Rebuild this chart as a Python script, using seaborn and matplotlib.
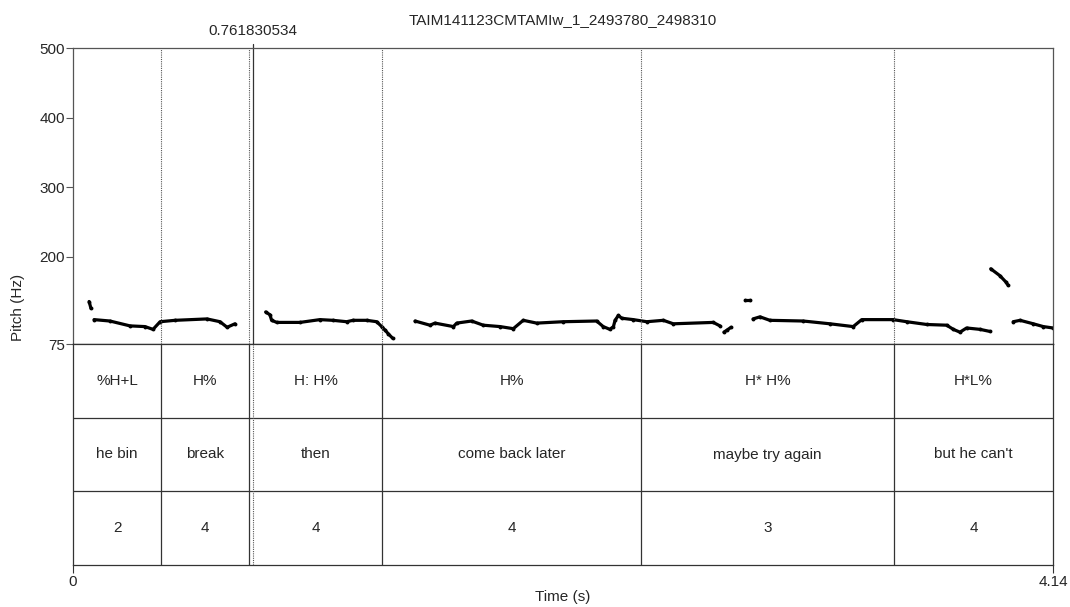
import matplotlib
matplotlib.use("Agg")
import matplotlib.pyplot as plt
import seaborn as sns
import pandas as pd
import numpy as np

sns.set_style("ticks")
plt.rcParams['font.family'] = ['Liberation Sans', 'DejaVu Sans']

title = "TAIM141123CMTAMIw_1_2493780_2498310"
t_min, t_max = 0.0, 4.14
cursor_time = 0.761830534
pitch_min, pitch_max = 75, 500
pitch_ticks = [75, 200, 300, 400, 500]

# pitch track segments (time s, pitch Hz)
seg_a_t = [0.068, 0.076]
seg_a_f = [136, 126]
seg_b_t = [0.089, 0.156, 0.241, 0.304, 0.338, 0.368, 0.431, 0.566, 0.621, 0.651, 0.684]
seg_b_f = [110, 108, 101, 100, 96, 107, 109, 111, 107, 99, 104]
seg_c_t = [0.814, 0.832, 0.839, 0.861, 0.959, 1.043, 1.098, 1.156, 1.183, 1.241, 1.283, 1.304, 1.318, 1.331, 1.351]
seg_c_f = [121, 117, 109, 106, 106, 110, 109, 107, 109, 109, 107, 100, 95, 90, 83]
seg_d_t = [1.445, 1.508, 1.529, 1.607, 1.621, 1.684, 1.733, 1.804, 1.860, 1.902, 1.959, 2.071, 2.212,
           2.240, 2.268, 2.283, 2.290, 2.304, 2.318, 2.367, 2.424, 2.494, 2.536, 2.705, 2.733]
seg_d_f = [108, 102, 105, 100, 105, 108, 102, 100, 97, 109, 105, 107, 108,
           100, 96, 100, 109, 116, 112, 110, 107, 109, 104, 106, 101]
seg_e_t = [2.750, 2.763, 2.780]
seg_e_f = [92, 95, 99]
seg_f_t = [2.839, 2.860]
seg_f_f = [138, 138]
seg_g_t = [2.873, 2.902, 2.944, 3.085, 3.198, 3.296, 3.332, 3.465, 3.522, 3.607, 3.691, 3.719, 3.747, 3.775, 3.832, 3.874]
seg_g_f = [111, 114, 109, 108, 104, 100, 110, 110, 107, 103, 102, 96, 92, 98, 96, 93]
seg_h_t = [3.877, 3.916, 3.941, 3.951]
seg_h_f = [183, 173, 164, 159]
seg_i_t = [3.972, 4.001, 4.057, 4.099, 4.140]
seg_i_f = [107, 109, 104, 100, 98]

segments = {
    "a": (seg_a_t, seg_a_f), "b": (seg_b_t, seg_b_f), "c": (seg_c_t, seg_c_f),
    "d": (seg_d_t, seg_d_f), "e": (seg_e_t, seg_e_f), "f": (seg_f_t, seg_f_f),
    "g": (seg_g_t, seg_g_f), "h": (seg_h_t, seg_h_f), "i": (seg_i_t, seg_i_f),
}

# TextGrid tiers
boundaries = [0.372, 0.745, 1.305, 2.400, 3.468]
tier_tones = ["%H+L", "H%", "H: H%", "H%", "H* H%", "H*L%"]
tier_words = ["he bin", "break", "then", "come back later", "maybe try again", "but he can't"]
tier_breaks = ["2", "4", "4", "4", "3", "4"]

rows = []
for k, (tt, ff) in segments.items():
    for t, f in zip(tt, ff):
        rows.append({"time": t, "pitch": f, "seg": k})
df = pd.DataFrame(rows)

W, H = 1070, 607
fig = plt.figure(figsize=(W / 100, H / 100), dpi=100)
L, R = 73, 1053
P_top, P_bot, T_bot = 48, 344, 565
ax_p = fig.add_axes([L / W, 1 - P_bot / H, (R - L) / W, (P_bot - P_top) / H])
ax_t = fig.add_axes([L / W, 1 - T_bot / H, (R - L) / W, (T_bot - P_bot) / H])

# pitch
sns.lineplot(data=df, x="time", y="pitch", units="seg", estimator=None, color="black",
             lw=2.3, marker="o", markersize=2.8, markeredgewidth=0, ax=ax_p, legend=False)
ax_p.set_xlim(t_min, t_max)
ax_p.set_ylim(pitch_min, pitch_max)
ax_p.set_yticks(pitch_ticks)
ax_p.set_yticklabels([str(v) for v in pitch_ticks])
ax_p.set_xticks([])
ax_p.set_xlabel("")
ax_p.set_ylabel("")
ax_p.tick_params(axis="y", length=5, width=0.8, labelsize=11, pad=1, color="#555555")
for s in ax_p.spines.values():
    s.set_linewidth(0.9)
    s.set_color("#555555")
ax_p.spines["bottom"].set_color("black")
for b in boundaries:
    ax_p.axvline(b, color="#555555", lw=0.8, ls=(0, (1, 1)))
ax_p.plot([cursor_time, cursor_time], [0, 1.015], color="#333333", lw=0.9,
          transform=ax_p.get_xaxis_transform(), clip_on=False)
ax_p.text(cursor_time, 1.035, f"{cursor_time:.9f}", transform=ax_p.get_xaxis_transform(),
          ha="center", va="bottom", fontsize=11)

# tiers
ax_t.set_xlim(t_min, t_max)
ax_t.set_ylim(0, 3)
ax_t.set_yticks([])
edges = [t_min] + boundaries + [t_max]
for y in [1, 2]:
    ax_t.axhline(y, color="#333333", lw=0.9)
for b in boundaries:
    ax_t.axvline(b, color="#333333", lw=0.9)
ax_t.axvline(cursor_time, color="#555555", lw=0.8, ls=(0, (1, 1)))
for row_y, labels in zip([2.5, 1.5, 0.5], [tier_tones, tier_words, tier_breaks]):
    for i, lab in enumerate(labels):
        ax_t.text((edges[i] + edges[i + 1]) / 2, row_y, lab, ha="center", va="center", fontsize=11)
for s in ax_t.spines.values():
    s.set_linewidth(0.9)
    s.set_color("#333333")
ax_t.set_xticks([t_min, t_max])
ax_t.set_xticklabels(["0", "4.14"])
ax_t.tick_params(axis="x", length=6, width=0.8, labelsize=11, pad=1, color="#333333")
ax_t.set_xlabel("")

fig.text((L + R) / 2 / W, 1 - 597 / H, "Time (s)", ha="center", va="center", fontsize=11)
fig.text(18 / W, 1 - 307 / H, "Pitch (Hz)", rotation=90, ha="center", va="center", fontsize=11)
fig.text((L + R) / 2 / W, 1 - 20 / H, title, ha="center", va="center", fontsize=11)

fig.savefig("out.png", dpi=100)
